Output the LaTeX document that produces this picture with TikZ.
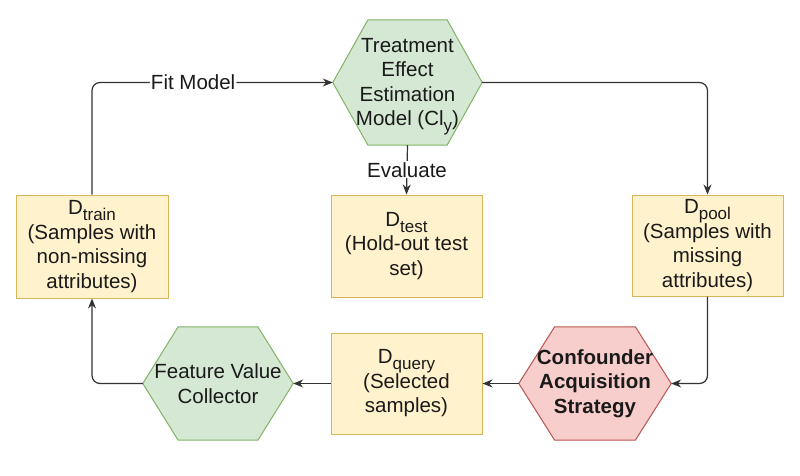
\documentclass[tikz,border=0pt]{standalone}
\usepackage{fontspec}
\setmainfont{Liberation Sans}
\usetikzlibrary{arrows.meta,calc,backgrounds}
\definecolor{yfill}{HTML}{FFF2CC}
\definecolor{ydraw}{HTML}{D6B656}
\definecolor{gfill}{HTML}{D5E8D4}
\definecolor{gdraw}{HTML}{82B366}
\definecolor{rfill}{HTML}{F8CECC}
\definecolor{rdraw}{HTML}{B85450}
\definecolor{linec}{HTML}{333333}
\definecolor{txtc}{HTML}{1A1A1A}
\newcommand\sbs[1]{\raisebox{-0.28em}{\fontsize{17}{17}\selectfont #1}}
\tikzset{
  every node/.style={font=\fontsize{20.5}{24.5}\selectfont, text=txtc},
  ybox/.style={draw=ydraw, fill=yfill, line width=1pt, align=center, inner sep=0pt},
  hexnode/.style={draw=none, align=center, inner sep=0pt},
  arr/.style={draw=linec, line width=1.2pt, -{Stealth[length=10pt,width=8pt]}},
  lbl/.style={fill=white, inner sep=1pt},
}
\newcommand\hexdraw[3]{% name, fill, draw
  \path[fill=#2, draw=#3, line width=1pt]
    (#1.west) -- ($(#1.north west)!0.235!(#1.north east)$)
    -- ($(#1.north west)!0.765!(#1.north east)$) -- (#1.east)
    -- ($(#1.south west)!0.765!(#1.south east)$)
    -- ($(#1.south west)!0.235!(#1.south east)$) -- cycle;}
\begin{document}
\begin{tikzpicture}[x=1pt,y=-1pt]
\useasboundingbox (0,0) rectangle (800,476);

\node[hexnode, minimum width=149pt, minimum height=125pt] (tee) at (407.5,82.5)
  {\raisebox{-4pt}[\height][\depth]{\parbox{140pt}{\centering Treatment\\Effect\\Estimation\\Model (Cl\sbs{y})}}};
\node[ybox, minimum width=152pt, minimum height=103pt] (train) at (92,246.5)
  {D\sbs{train}\\(Samples with\\non-missing\\attributes)};
\node[ybox, minimum width=151pt, minimum height=102pt] (test) at (406.5,246)
  {D\sbs{test}\\(Hold-out test\\set)};
\node[ybox, minimum width=151pt, minimum height=101pt] (pool) at (707.5,245.5)
  {D\sbs{pool}\\(Samples with\\missing\\attributes)};
\node[ybox, minimum width=151pt, minimum height=101pt] (query) at (406.5,383.5)
  {D\sbs{query}\\(Selected\\samples)};
\node[hexnode, minimum width=152pt, minimum height=113pt, font=\fontsize{20.5}{24.5}\selectfont\bfseries] (conf) at (595,383.5)
  {Confounder\\Acquisition\\Strategy};
\node[hexnode, minimum width=150pt, minimum height=113pt] (feat) at (218,383.5)
  {Feature Value\\Collector};

\begin{scope}[on background layer]
  \fill[white] (0,0) rectangle (800,476);
  \hexdraw{tee}{gfill}{gdraw}
  \hexdraw{conf}{rfill}{rdraw}
  \hexdraw{feat}{gfill}{gdraw}
\end{scope}

\draw[arr, rounded corners=8pt] (train.north) |- node[lbl, pos=0.71] {Fit Model} (tee.west);
\draw[arr, rounded corners=8pt] (tee.east) -| (pool.north);
\draw[arr] (tee.south) -- node[lbl] {Evaluate} (test.north);
\draw[arr, rounded corners=8pt] (pool.south) |- (conf.east);
\draw[arr] (conf.west) -- (query.east);
\draw[arr] (query.west) -- (feat.east);
\draw[arr, rounded corners=8pt] (feat.west) -| (train.south);
\end{tikzpicture}
\end{document}
